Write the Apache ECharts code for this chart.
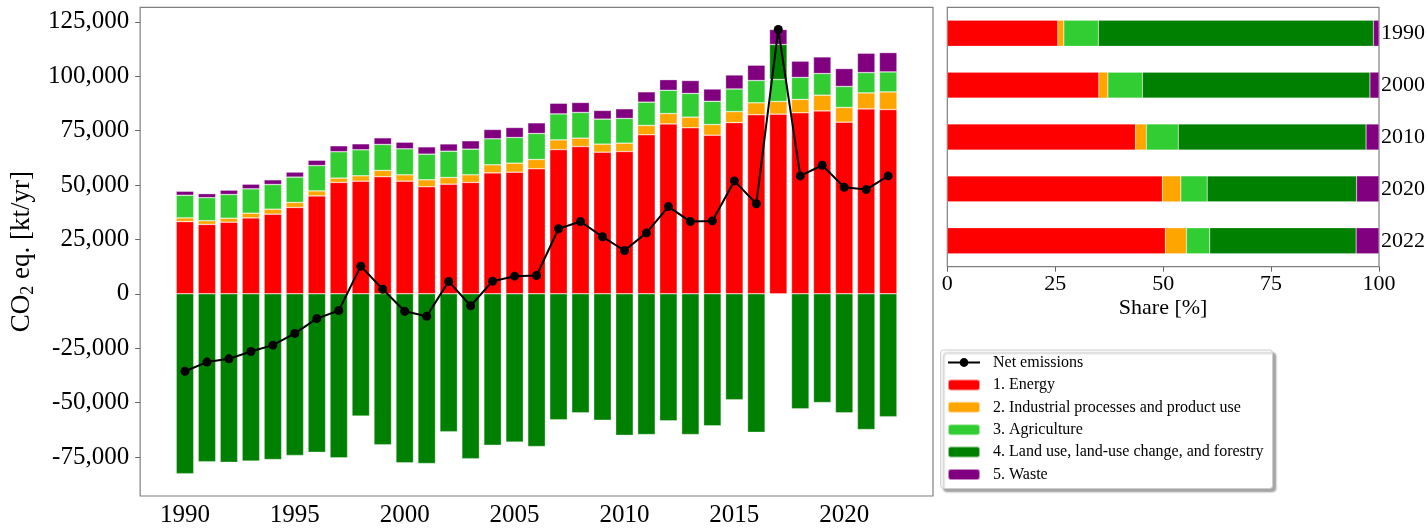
<!DOCTYPE html>
<html>
<head>
<meta charset="utf-8">
<script src="https://cdn.jsdelivr.net/npm/echarts@6/dist/echarts.min.js"></script>
<style>
html,body{margin:0;padding:0;background:#fff;}
#chart{width:1428px;height:528px;}
</style>
</head>
<body>
<div id="chart"></div>
<script>
const years = [1990,1991,1992,1993,1994,1995,1996,1997,1998,1999,2000,2001,2002,2003,2004,2005,2006,2007,2008,2009,2010,2011,2012,2013,2014,2015,2016,2017,2018,2019,2020,2021,2022];
const energy = [33200,31900,32900,34900,36600,39700,45000,51200,51800,53800,51800,49200,50400,51200,55600,55900,57450,66300,67700,65100,65400,73100,78100,76300,72900,78700,82300,82600,83200,84100,78900,85000,84700];
const ippu = [1700,1700,1850,2150,2300,2300,2300,2000,2450,2900,2900,3200,3050,3500,3700,4150,4300,4450,3850,3700,3850,4300,4750,4900,4900,5050,5500,5800,6150,7200,6750,7350,8100];
const agriculture = [10400,10600,10900,11200,11350,11650,11650,12100,11950,11950,11950,11800,12100,11800,11950,11800,11950,11950,11800,11500,11350,10700,10700,10900,10700,10400,10250,10100,10100,9950,9650,9350,9200];
const lulucf = [-82700,-77200,-77500,-76900,-76200,-74300,-72900,-75400,-56200,-69400,-77700,-78000,-63400,-75800,-69600,-68200,-70200,-57900,-54700,-58100,-65100,-64700,-58400,-64700,-60700,-48700,-63700,16100,-52900,-50000,-54700,-62400,-56500];
const waste = [1850,1850,2000,2150,2150,2300,2450,2750,2750,3050,3050,3350,3350,3850,4300,4600,4900,4900,4600,4000,4450,4750,4900,5950,5650,6450,7050,6900,7500,7650,8250,8900,8900];
const netEmissions = [-35600,-31400,-29900,-26500,-23600,-18200,-11400,-7700,12700,2100,-8000,-10300,5700,-5500,5800,8100,8400,29900,33200,26200,19900,28000,40100,33200,33500,51900,41400,121500,54200,59100,49000,47900,54200];

const xTicks = [1990,1995,2000,2005,2010,2015,2020];
const yTicks = [-75000,-50000,-25000,0,25000,50000,75000,100000,125000];

const shareYears = ['1990','2000','2010','2020','2022'];
const shareEnergy = [25.6,35.1,43.6,49.8,50.5];
const shareIppu = [1.4,2.1,2.5,4.3,4.9];
const shareAgriculture = [8.0,8.0,7.4,6.1,5.4];
const shareLulucf = [63.7,52.7,43.5,34.6,33.9];
const shareWaste = [1.3,2.1,3.0,5.2,5.3];

const names = ['1. Energy','2. Industrial processes and product use','3. Agriculture','4. Land use, land-use change, and forestry','5. Waste'];
const colors = ['#ff0000','#ffa500','#32cd32','#008000','#800080'];
const mainSets = [energy, ippu, agriculture, lulucf, waste];
const shareSets = [shareEnergy, shareIppu, shareAgriculture, shareLulucf, shareWaste];

const FONT = 'Liberation Serif';
const fmt = v => (v < 0 ? '-' : '') + Math.abs(v).toLocaleString('en-US');

const series = [];
mainSets.forEach((arr, k) => {
  series.push({
    name: names[k], type: 'bar', stack: 'main', xAxisIndex: 0, yAxisIndex: 0,
    barWidth: '80%',
    encode: {x: 1, y: 0},
    itemStyle: {color: colors[k], borderColor: 'rgba(255,255,255,0.55)', borderWidth: 0.6},
    data: arr.map((v, i) => [v, years[i]]),
    z: 2
  });
});
series.push({
  name: 'Net emissions', type: 'line', xAxisIndex: 0, yAxisIndex: 0,
  symbol: 'circle', symbolSize: 9, showSymbol: true,
  lineStyle: {color: '#000', width: 2}, itemStyle: {color: '#000'},
  data: netEmissions.map((v, i) => [years[i], v]),
  z: 5
});
shareSets.forEach((arr, k) => {
  series.push({
    name: names[k], type: 'bar', stack: 'share', xAxisIndex: 1, yAxisIndex: 1,
    barWidth: '50%',
    itemStyle: {color: colors[k], borderColor: 'rgba(255,255,255,0.4)', borderWidth: 0.5},
    data: arr
  });
});

const chart = echarts.init(document.getElementById('chart'), null, {renderer: 'canvas'});
chart.setOption({
  animation: false,
  backgroundColor: '#fff',
  textStyle: {fontFamily: FONT},
  grid: [
    {left: 140, top: 7.3, right: 495, bottom: 31.3, show: true, borderColor: '#808080', borderWidth: 1.2, containLabel: false},
    {left: 947.3, top: 7.3, right: 48, bottom: 261.3, show: true, borderColor: '#808080', borderWidth: 1.2, containLabel: false}
  ],
  xAxis: [
    {
      type: 'value', gridIndex: 0, min: 1987.96, max: 2024.04,
      axisLine: {show: false}, splitLine: {show: false},
      axisTick: {show: true, length: 5, lineStyle: {color: '#666'}, customValues: xTicks},
      axisLabel: {fontFamily: FONT, fontSize: 25, color: '#000', margin: 7, customValues: xTicks, formatter: v => String(v)}
    },
    {
      type: 'value', gridIndex: 1, min: 0, max: 100, interval: 25,
      name: 'Share [%]', nameLocation: 'middle', nameGap: 31,
      nameTextStyle: {fontFamily: FONT, fontSize: 22, color: '#000'},
      axisLine: {show: false}, splitLine: {show: false},
      axisTick: {show: true, length: 5, lineStyle: {color: '#666'}},
      axisLabel: {fontFamily: FONT, fontSize: 22, color: '#000', margin: 7}
    }
  ],
  yAxis: [
    {
      type: 'value', gridIndex: 0, min: -92950, max: 131700,
      name: '{a|CO}{s|2}{a| eq. [kt/yr]}', nameLocation: 'middle', nameGap: 100, nameRotate: 90,
      nameTextStyle: {rich: {
        a: {fontFamily: FONT, fontSize: 27, color: '#000', lineHeight: 31},
        s: {fontFamily: FONT, fontSize: 18, color: '#000', lineHeight: 18, verticalAlign: 'bottom'}
      }},
      axisLine: {show: false}, splitLine: {show: false},
      axisTick: {show: true, length: 5, lineStyle: {color: '#666'}, customValues: yTicks},
      axisLabel: {fontFamily: FONT, fontSize: 25, color: '#000', margin: 11, customValues: yTicks, formatter: fmt}
    },
    {
      type: 'category', gridIndex: 1, data: shareYears, inverse: true, position: 'right',
      axisLine: {show: false}, axisTick: {show: false}, splitLine: {show: false},
      axisLabel: {fontFamily: FONT, fontSize: 22, color: '#000', margin: 2}
    }
  ],
  legend: {
    orient: 'vertical', left: 940.7, top: 350,
    data: ['Net emissions'].concat(names),
    itemWidth: 32, itemHeight: 11, itemGap: 6.4,
    padding: [4.5, 9, 6, 6.3],
    backgroundColor: '#fff', borderColor: '#cccccc', borderWidth: 1, borderRadius: 3,
    shadowColor: 'rgba(0,0,0,0.35)', shadowBlur: 2, shadowOffsetX: 3, shadowOffsetY: 3,
    textStyle: {fontFamily: FONT, fontSize: 16, color: '#000', lineHeight: 16, padding: [0, 0, 0, 8]},
    selectedMode: false
  },
  series: series
});
</script>
</body>
</html>
